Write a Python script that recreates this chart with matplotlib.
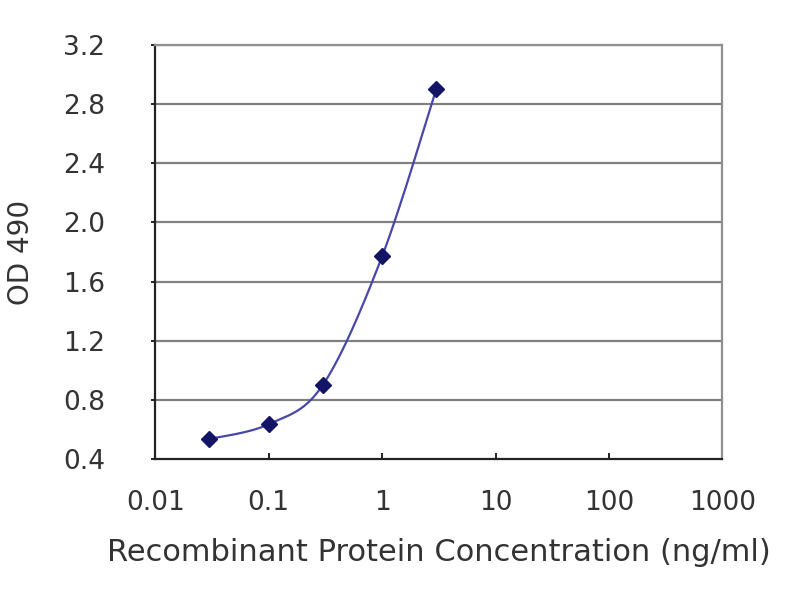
import numpy as np
import matplotlib
matplotlib.use('Agg')
import matplotlib.pyplot as plt

# ELISA standard curve
conc = [0.03, 0.1, 0.3, 1, 3]          # ng/ml
od490 = [0.535, 0.635, 0.90, 1.77, 2.90]

xticks = [0.01, 0.1, 1, 10, 100, 1000]
xtick_labels = ['0.01', '0.1', '1', '10', '100', '1000']
yticks = [0.4, 0.8, 1.2, 1.6, 2.0, 2.4, 2.8, 3.2]


def smooth(xs, ys, n=40):
    # Catmull-Rom style bezier through the points, done in log-x space
    px = np.log10(xs)
    py = np.array(ys, dtype=float)
    P = np.column_stack([px, py])
    out = []
    for i in range(len(P) - 1):
        p0 = P[i - 1] if i > 0 else P[i]
        p1 = P[i]
        p2 = P[i + 1]
        p3 = P[i + 2] if i + 2 < len(P) else P[i + 1]
        c1 = p1 + (p2 - p0) / 6
        c2 = p2 - (p3 - p1) / 6
        t = np.linspace(0, 1, n)[:, None]
        seg = ((1 - t)**3 * p1 + 3 * (1 - t)**2 * t * c1
               + 3 * (1 - t) * t**2 * c2 + t**3 * p2)
        out.append(seg if i == 0 else seg[1:])
    out = np.vstack(out)
    return 10**out[:, 0], out[:, 1]


fig = plt.figure(figsize=(8, 6), dpi=100)
ax = fig.add_axes([0.194, 0.235, 0.709, 0.69])

ax.set_xscale('log')
ax.set_xlim(0.01, 1000)
ax.set_ylim(0.4, 3.2)

for yv in yticks[1:]:
    ax.axhline(yv, color='#808080', lw=1.6, zorder=1)

sx, sy = smooth(conc, od490)
ax.plot(sx, sy, color='#4848a8', lw=1.6, zorder=2)
ax.plot(conc, od490, linestyle='none', marker='D', markersize=8,
        color='#141466', zorder=3)

ax.set_xticks(xticks)
ax.set_xticklabels(xtick_labels)
ax.xaxis.set_minor_locator(plt.NullLocator())
ax.set_yticks(yticks)
ax.set_yticklabels(['%.1f' % v for v in yticks])

ax.tick_params(axis='x', direction='in', length=4, width=1.2, pad=22,
               labelsize=19, labelcolor='#333333')
ax.tick_params(axis='y', direction='out', length=3, width=1.2, pad=33,
               labelsize=19, labelcolor='#333333')

for side in ['left', 'bottom']:
    ax.spines[side].set_color('#222222')
    ax.spines[side].set_linewidth(1.6)
for side in ['top', 'right']:
    ax.spines[side].set_color('#909090')
    ax.spines[side].set_linewidth(1.6)

ax.set_xlabel('Recombinant Protein Concentration (ng/ml)', fontsize=22,
              color='#333333', labelpad=16)
ax.set_ylabel('OD 490', fontsize=20, color='#333333', labelpad=20)

fig.savefig('out.png', dpi=100)
